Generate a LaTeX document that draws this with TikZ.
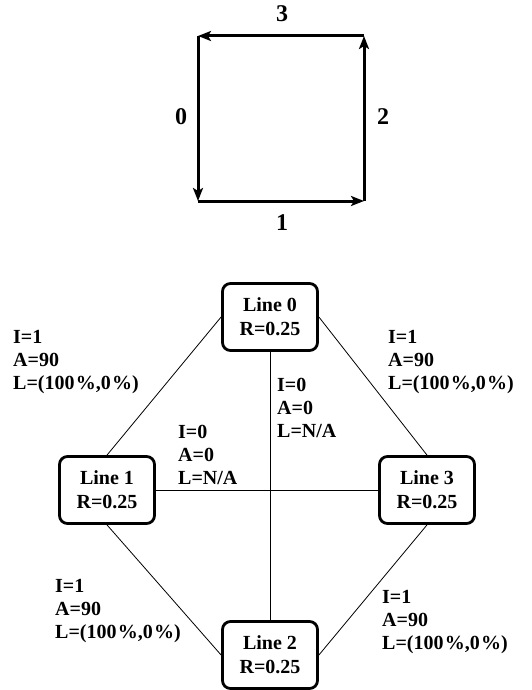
\documentclass[tikz,border=0pt]{standalone}
\usepackage{fontspec}
\setmainfont{Liberation Serif}
\usetikzlibrary{arrows.meta}
\newcommand{\pct}{\kern1.2pt\%}
\tikzset{
  linebox/.style={draw, line width=2.8pt, rounded corners=8pt, minimum width=95pt, minimum height=67pt,
    align=center, inner sep=0pt, font=\fontsize{20}{24}\selectfont\bfseries},
  sqarrow/.style={line width=3pt, -{Stealth[length=13pt,width=10pt,inset=3pt]}},
  sqlabel/.style={font=\fontsize{24}{26}\selectfont\bfseries, inner sep=0pt},
  conn/.style={line width=0.8pt},
  info/.style={align=left, anchor=north west, inner sep=0pt, font=\fontsize{20}{23}\selectfont\bfseries}
}
\begin{document}
\begin{tikzpicture}[x=1pt,y=-1pt]
\useasboundingbox (0,0) rectangle (531,690);
% square
\coordinate (A) at (198,36);
\coordinate (B) at (198,201);
\coordinate (C) at (364,201);
\coordinate (D) at (364,36);
\draw[sqarrow] (A) -- (B);
\draw[sqarrow] (B) -- (C);
\draw[sqarrow] (C) -- (D);
\draw[sqarrow] (D) -- (A);
\node[sqlabel] (l3) at (282,14) {3};
\node[sqlabel] (l0) at (181,117) {0};
\node[sqlabel] (l2) at (383,117) {2};
\node[sqlabel] (l1) at (282,223) {1};
% graph
\node[linebox] (n0) at (270,317) {Line 0\\R=0.25};
\node[linebox] (n1) at (107,490) {Line 1\\R=0.25};
\node[linebox] (n3) at (427,490) {Line 3\\R=0.25};
\node[linebox] (n2) at (270,655) {Line 2\\R=0.25};
\draw[conn] (n0.west) -- (n1.north);
\draw[conn] (n0.east) -- (n3.north);
\draw[conn] (n1.south) -- (n2.west);
\draw[conn] (n3.south) -- (n2.east);
\draw[conn] (n0.south) -- (n2.north);
\draw[conn] (n1.east) -- (n3.west);
% labels
\node[info] (t01) at (13,330) {I=1\\A=90\\L=(100\pct,0\pct)};
\node[info] (t03) at (388,330) {I=1\\A=90\\L=(100\pct,0\pct)};
\node[info] (t02) at (277,378) {I=0\\A=0\\L=N/A};
\node[info] (t13) at (178,425) {I=0\\A=0\\L=N/A};
\node[info] (t12) at (55,579) {I=1\\A=90\\L=(100\pct,0\pct)};
\node[info] (t32) at (382,590) {I=1\\A=90\\L=(100\pct,0\pct)};
\end{tikzpicture}
\end{document}
